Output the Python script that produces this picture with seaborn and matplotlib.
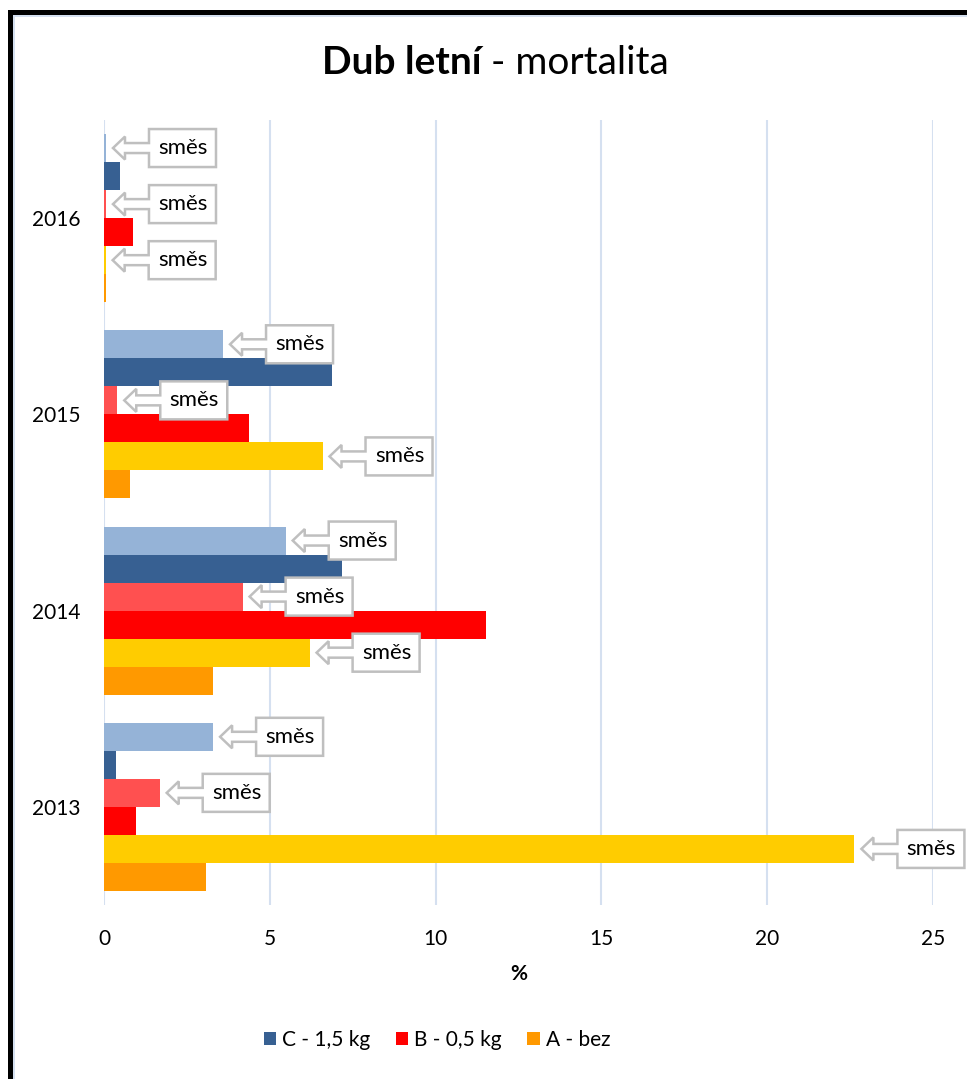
import matplotlib
matplotlib.use('Agg')
import matplotlib.pyplot as plt
import seaborn as sns
import pandas as pd
from matplotlib.patches import Polygon, Rectangle, Patch
from matplotlib.transforms import IdentityTransform

# ---- data ----
years = ['2016', '2015', '2014', '2013']
series = ['C směs', 'C - 1,5 kg', 'B směs', 'B - 0,5 kg', 'A směs', 'A - bez']
c_mix = [0.06, 3.59, 5.48, 3.29]
c_val = [0.47, 6.89, 7.19, 0.37]
b_mix = [0.06, 0.40, 4.18, 1.68]
b_val = [0.87, 4.38, 11.52, 0.98]
a_mix = [0.05, 6.59, 6.20, 22.63]
a_val = [0.07, 0.78, 3.29, 3.08]
colors = ['#95B3D7', '#376092', '#FF5050', '#FF0000', '#FFCC00', '#FF9900']
mix_label = 'směs'
legend_series = ['C - 1,5 kg', 'B - 0,5 kg', 'A - bez']
x_ticks = [0, 5, 10, 15, 20, 25]

values = [c_mix, c_val, b_mix, b_val, a_mix, a_val]
rows = []
for s, vals in zip(series, values):
    for y, v in zip(years, vals):
        rows.append({'year': y, 'series': s, 'value': v})
df = pd.DataFrame(rows)
pal = dict(zip(series, colors))

sns.set_theme(style='white')
FONT = ['Lato', 'DejaVu Sans']
plt.rcParams['font.family'] = FONT
plt.rcParams['text.color'] = 'black'
plt.rcParams['axes.labelcolor'] = 'black'
plt.rcParams['xtick.color'] = 'black'
plt.rcParams['ytick.color'] = 'black'

W, H = 967, 1079
fig = plt.figure(figsize=(W / 100, H / 100), dpi=100)
ax = fig.add_axes([104 / W, 1 - 905 / H, 829 / W, 785 / H])

sns.barplot(data=df, y='year', x='value', hue='series', order=years,
            hue_order=series, palette=pal, orient='h', width=0.857, gap=0,
            saturation=1, linewidth=0, legend=False, ax=ax)

ax.set_xlim(0, 25)
ax.set_ylim(3.5, -0.5)
ax.set_xticks(x_ticks)
ax.set_xticklabels([str(t) for t in x_ticks])
ax.xaxis.grid(True, color='#D5E0F0', linewidth=1.5)
ax.yaxis.grid(False)
ax.set_axisbelow(True)
for sp in ax.spines.values():
    sp.set_visible(False)
ax.tick_params(axis='both', length=0, labelsize=15, colors='black')
ax.tick_params(axis='x', pad=17)
ax.tick_params(axis='y', pad=17)
ax.set_ylabel('')
ax.set_xlabel('%', fontsize=15, fontweight='bold', labelpad=11)

# ---- callouts ("směs") ----
fig.canvas.draw()
shape = [(7, 0), (19, 11.5), (19, 5), (43, 5), (43, 19), (110, 19),
         (110, -19), (43, -19), (43, -5), (19, -5), (19, -11.5)]
for i in (0, 2, 4):
    for bar in ax.containers[i]:
        X, Y = ax.transData.transform((bar.get_x() + bar.get_width(),
                                       bar.get_y() + bar.get_height() / 2))
        poly = Polygon([(X + dx, Y + dy) for dx, dy in shape], closed=True,
                       facecolor='white', edgecolor='#BFBFBF', linewidth=1.8,
                       transform=IdentityTransform(), zorder=5)
        fig.add_artist(poly)
        fig.text(X + 77, Y, mix_label, transform=IdentityTransform(),
                 ha='center', va='center', fontsize=16, color='black', zorder=6)

# ---- title ----
fig.text(481 / W, 1 - 63 / H, 'Dub letní', ha='right', va='center',
         fontsize=28, fontweight='bold')
fig.text(481 / W, 1 - 63 / H, ' - mortalita', ha='left', va='center',
         fontsize=28)

# ---- legend ----
handles = [Patch(facecolor=pal[s], edgecolor='none', label=s) for s in legend_series]
fig.legend(handles=handles, loc='center', bbox_to_anchor=(437 / W, 1 - 1040 / H),
           ncol=3, frameon=False, fontsize=15, handlelength=0.6, handleheight=0.6,
           handletextpad=0.3, columnspacing=1.2)

# ---- frame ----
fig.add_artist(Rectangle((8 / W, 0), 5 / W, 1 - 10 / H, transform=fig.transFigure,
                         facecolor='black', edgecolor='none', zorder=10))
fig.add_artist(Rectangle((8 / W, 1 - 15 / H), 1 - 8 / W, 5 / H, transform=fig.transFigure,
                         facecolor='black', edgecolor='none', zorder=10))
fig.add_artist(Rectangle((13 / W, 0), 2 / W, 1 - 15 / H, transform=fig.transFigure,
                         facecolor='#D5E0F0', edgecolor='none', zorder=9))
fig.add_artist(Rectangle((13 / W, 1 - 17 / H), 1 - 13 / W, 2 / H, transform=fig.transFigure,
                         facecolor='#D5E0F0', edgecolor='none', zorder=9))

fig.savefig('out.png', dpi=100)
